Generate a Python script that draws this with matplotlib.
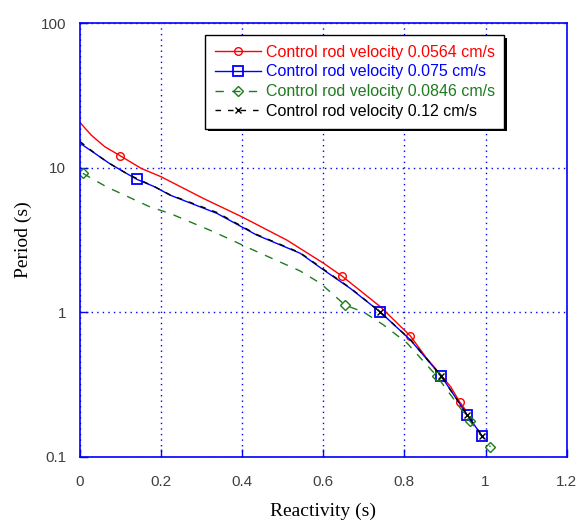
import matplotlib
matplotlib.use("Agg")
import matplotlib.pyplot as plt
from matplotlib.ticker import FixedLocator, FixedFormatter, NullLocator
import matplotlib.patheffects as pe

# Reactivity (x) and period (y) for each control rod velocity
x_0564 = [0.0, 0.028, 0.061, 0.0995, 0.151, 0.2, 0.304, 0.399, 0.51, 0.601,
          0.646, 0.741, 0.815, 0.852, 0.914, 0.936, 0.951]
y_0564 = [20.6, 16.8, 14.0, 12.1, 9.9, 8.67, 6.14, 4.58, 3.16, 2.18,
          1.78, 1.09, 0.684, 0.492, 0.305, 0.24, 0.21]
mk_0564 = [3, 10, 12, 15]

x_075 = [0.0, 0.04, 0.073, 0.11, 0.141, 0.184, 0.222, 0.338, 0.436, 0.543,
         0.601, 0.667, 0.741, 0.815, 0.891, 0.955, 0.991]
y_075 = [14.8, 12.4, 10.7, 9.3, 8.3, 7.39, 6.47, 4.83, 3.42, 2.56,
         1.96, 1.46, 1.0, 0.642, 0.361, 0.194, 0.140]
mk_075 = [4, 12, 14, 15, 16]

x_0846 = [0.007, 0.065, 0.172, 0.222, 0.329, 0.428, 0.543, 0.593, 0.654, 0.70,
          0.749, 0.807, 0.88, 0.961, 1.012]
y_0846 = [9.15, 7.39, 5.37, 4.83, 3.61, 2.69, 1.93, 1.585, 1.12, 1.0,
          0.815, 0.61, 0.361, 0.177, 0.117]
mk_0846 = [0, 8, 12, 13, 14]

x_012 = [0.0, 0.04, 0.073, 0.11, 0.141, 0.184, 0.222, 0.338, 0.436, 0.543,
         0.601, 0.667, 0.741, 0.815, 0.891, 0.955, 0.991]
y_012 = [15.2, 12.4, 10.7, 9.3, 8.4, 7.39, 6.5, 4.9, 3.45, 2.58,
         1.98, 1.47, 1.0, 0.645, 0.361, 0.194, 0.140]
mk_012 = [12, 14, 15, 16]

labels = ["Control rod velocity 0.0564 cm/s",
          "Control rod velocity 0.075 cm/s",
          "Control rod velocity 0.0846 cm/s",
          "Control rod velocity 0.12 cm/s"]

x_ticks = [0, 0.2, 0.4, 0.6, 0.8, 1, 1.2]
x_tick_labels = ["0", "0.2", "0.4", "0.6", "0.8", "1", "1.2"]
y_ticks = [0.1, 1, 10, 100]
y_tick_labels = ["0.1", "1", "10", "100"]

RED = "#ff0000"
BLUE = "#0000ff"
GREEN = "#1e7b1e"
BLACK = "#000000"
AXBLUE = "#0000ff"

fig = plt.figure(figsize=(5.77, 5.23), dpi=100)
ax = fig.add_axes([0.1386, 0.1268, 0.8434, 0.8286])

ax.plot(x_0564, y_0564, color=RED, lw=1.0, marker="o", ms=5.5, mfc="none",
        mec=RED, markevery=mk_0564, label=labels[0])
ax.plot(x_075, y_075, color=BLUE, lw=1.0, marker="s", ms=7, mfc="none",
        mec=BLUE, mew=1.3, markevery=mk_075, label=labels[1])
ax.plot(x_0846, y_0846, color=GREEN, lw=1.0, ls=(0, (6, 6)), marker="D", ms=5,
        mfc="none", mec=GREEN, markevery=mk_0846, label=labels[2])
ax.plot(x_012, y_012, color=BLACK, lw=1.0, ls=(0, (4, 5)), marker="x", ms=4,
        mec=BLACK, markevery=mk_012, label=labels[3])

ax.set_yscale("log")
ax.set_xlim(0, 1.2)
ax.set_ylim(0.1, 100)

ax.xaxis.set_major_locator(FixedLocator(x_ticks))
ax.xaxis.set_major_formatter(FixedFormatter(x_tick_labels))
ax.yaxis.set_major_locator(FixedLocator(y_ticks))
ax.yaxis.set_major_formatter(FixedFormatter(y_tick_labels))
ax.yaxis.set_minor_locator(NullLocator())

ax.grid(True, which="major", color=AXBLUE, ls=(0, (1, 3)), lw=1.0)
for s in ax.spines.values():
    s.set_color(AXBLUE)
    s.set_linewidth(1.2)
ax.tick_params(direction="in", colors=AXBLUE, length=6, width=1.0,
               labelcolor="#404040", labelsize=11)
ax.tick_params(axis="x", pad=13)
ax.tick_params(axis="y", pad=10)
for lab in ax.get_xticklabels() + ax.get_yticklabels():
    lab.set_family("Liberation Sans")

ax.set_xlabel("Reactivity (s)", family="Liberation Serif", fontsize=14, labelpad=10)
ax.set_ylabel("Period (s)", family="Liberation Serif", fontsize=14, labelpad=6)

leg = ax.legend(loc="upper left", bbox_to_anchor=(0.257, 0.973), borderaxespad=0,
                frameon=True, fancybox=False, shadow=False, framealpha=1.0,
                prop={"family": "Liberation Sans", "size": 11.5},
                handlelength=2.9, borderpad=0.6, labelspacing=0.3, handletextpad=0.3)
frame = leg.get_frame()
frame.set_facecolor("white")
frame.set_edgecolor("black")
frame.set_linewidth(1.0)
frame.set_path_effects([pe.SimplePatchShadow(offset=(2, -2), shadow_rgbFace="black", alpha=1.0),
                        pe.Normal()])
for txt, col in zip(leg.get_texts(), [RED, BLUE, GREEN, BLACK]):
    txt.set_color(col)

fig.savefig("out.png", dpi=100)
